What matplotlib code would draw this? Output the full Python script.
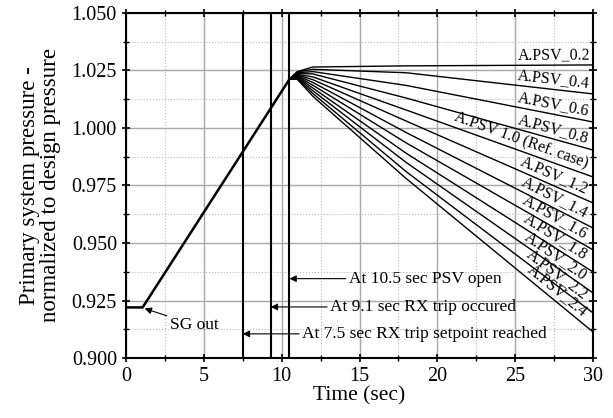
import numpy as np
import matplotlib
matplotlib.use("Agg")
import matplotlib.pyplot as plt
from matplotlib.ticker import MultipleLocator, FormatStrFormatter

plt.rcParams['font.family'] = ['Liberation Serif', 'DejaVu Serif']

# common part: SG out, ramp up to PSV opening
t_rise = [0.0, 1.07, 10.5]
p_rise = [0.922, 0.922, 1.0212]

# after PSV opening, one curve per PSV area
t_after = [10.5, 11.0, 12.0, 18.0, 30.0]
psv_names = ["A.PSV_0.2", "A.PSV_0.4", "A.PSV_0.6", "A.PSV_0.8", "A.PSV 1.0 (Ref. case)",
             "A.PSV_1.2", "A.PSV_1.4", "A.PSV_1.6", "A.PSV_1.8", "A.PSV_2.0",
             "A.PSV_2.2", "A.PSV_2.4"]
p_after = [
    [1.0212, 1.0245, 1.0265, 1.0270, 1.0274],
    [1.0212, 1.0243, 1.0255, 1.0240, 1.0148],
    [1.0212, 1.0240, 1.0245, 1.0185, 1.0026],
    [1.0212, 1.0237, 1.0235, 1.0130, 0.9904],
    [1.0212, 1.0233, 1.0222, 1.0078, 0.9787],
    [1.0212, 1.0230, 1.0210, 1.0030, 0.9674],
    [1.0212, 1.0227, 1.0198, 0.9980, 0.9565],
    [1.0212, 1.0224, 1.0186, 0.9935, 0.9470],
    [1.0212, 1.0221, 1.0174, 0.9890, 0.9374],
    [1.0212, 1.0218, 1.0162, 0.9850, 0.9283],
    [1.0212, 1.0215, 1.0150, 0.9810, 0.9196],
    [1.0212, 1.0212, 1.0138, 0.9780, 0.9113],
]

# event lines
t_events = [7.5, 9.3, 10.5]

fig = plt.figure(figsize=(6.13, 4.18), dpi=100)
ax = fig.add_axes([0.2055, 0.1435, 0.762, 0.8255])
ax.set_xlim(0, 30)
ax.set_ylim(0.9, 1.05)

for p in p_after:
    ax.plot(t_after, p, color='k', lw=1.0)
ax.plot(t_rise, p_rise, color='k', lw=1.8)

for te in t_events:
    ax.axvline(te, color='k', lw=1.5)

# curve labels sit on top of each line at the right end
inv = ax.transData.inverted()
xr = ax.transData.transform((30, 1.0))[0]
for name, p in zip(psv_names, p_after):
    x1, y1 = ax.transData.transform((t_after[-2], p[-2]))
    x2, y2 = ax.transData.transform((t_after[-1], p[-1]))
    ang = np.degrees(np.arctan2(y2 - y1, x2 - x1))
    xa_px = xr - 3 - 15 * np.sin(np.radians(-ang))
    xa = inv.transform((xa_px, 0))[0]
    ya = np.interp(xa, t_after, p) + 0.0008
    ax.text(xa, ya, name, fontsize=11.5, rotation=ang, ha='right', va='bottom',
            rotation_mode='anchor')

arr = dict(arrowstyle='-|>', color='k', lw=0.8, mutation_scale=10, shrinkA=0, shrinkB=0)
ax.annotate("SG out", xy=(1.2, 0.9215), xytext=(2.8, 0.9145), fontsize=12.5,
            va='center', ha='left', arrowprops=arr)
ax.annotate("At 10.5 sec PSV open", xy=(10.5, 0.9345), xytext=(14.3, 0.9345), fontsize=12.5,
            va='center', ha='left', arrowprops=arr)
ax.annotate("At 9.1 sec RX trip occured", xy=(9.3, 0.9222), xytext=(13.1, 0.9222), fontsize=12.5,
            va='center', ha='left', arrowprops=arr)
ax.annotate("At 7.5 sec RX trip setpoint reached", xy=(7.5, 0.9105), xytext=(11.3, 0.9105),
            fontsize=12.5, va='center', ha='left', arrowprops=arr)

ax.xaxis.set_major_locator(MultipleLocator(5))
ax.xaxis.set_minor_locator(MultipleLocator(2.5))
ax.yaxis.set_major_locator(MultipleLocator(0.025))
ax.yaxis.set_minor_locator(MultipleLocator(0.0125))
ax.yaxis.set_major_formatter(FormatStrFormatter('%.3f'))
ax.grid(which='major', color='#a8a8a8', lw=1.0, ls='-')
ax.grid(which='minor', color='#b8b8b8', lw=0.8, ls=':')
ax.set_axisbelow(True)
ax.tick_params(which='both', direction='inout', top=True, right=True, labelsize=14.5)
ax.tick_params(which='major', length=6, width=1.2)
ax.tick_params(which='minor', length=4, width=1.0)
for s in ax.spines.values():
    s.set_linewidth(1.5)

ax.set_xlabel("Time (sec)", fontsize=15.5, labelpad=0)
ax.set_ylabel("Primary system pressure -\nnormalized to design pressure", fontsize=16.5,
              va='center', linespacing=1.0)
ax.yaxis.set_label_coords(-0.184, 0.5)

fig.savefig("out.png", dpi=100)
